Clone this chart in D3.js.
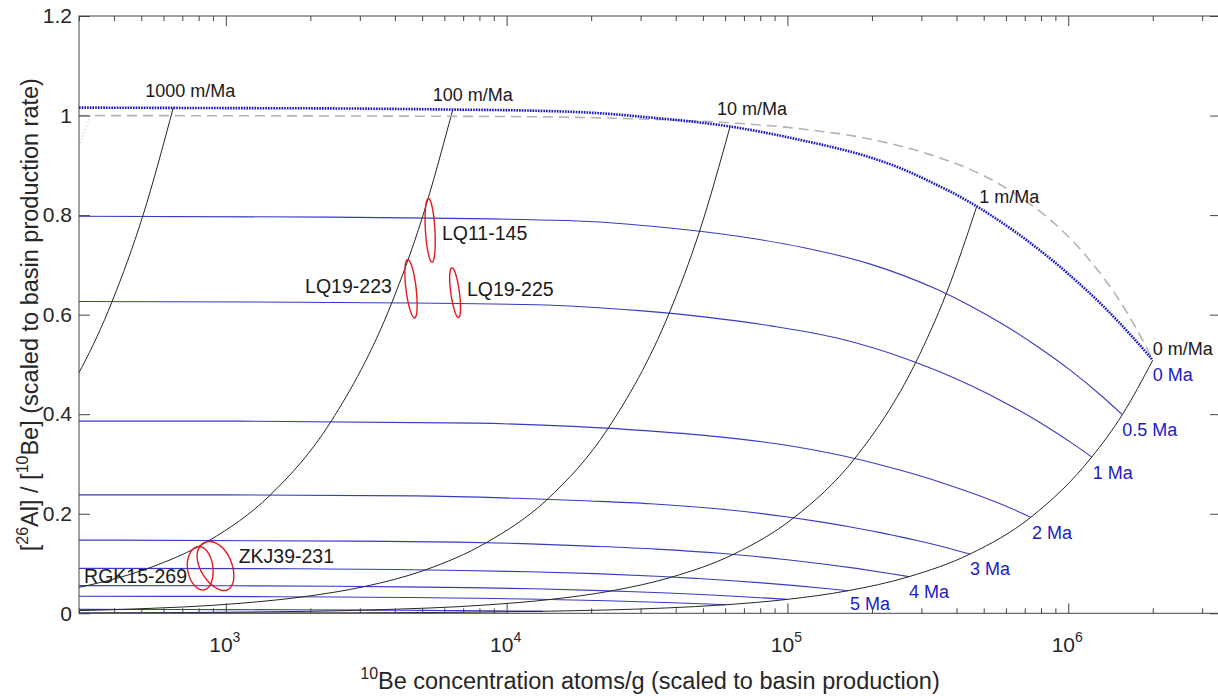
<!DOCTYPE html>
<html><head><meta charset="utf-8">
<script src="https://cdn.jsdelivr.net/npm/d3@7/dist/d3.min.js"></script>
<style>
body{margin:0;background:#fff}
svg{display:block}
text{font-family:"Liberation Sans",Arial,Helvetica,sans-serif}
</style>
</head><body>
<svg id="c" width="1218" height="696"></svg>
<script>
// ---------------- DATA ----------------
const xDomain = [300, 3.5e6];
const yDomain = [0, 1.2];
const yTicks = [0, 0.2, 0.4, 0.6, 0.8, 1, 1.2];
const yTickLabels = ["0", "0.2", "0.4", "0.6", "0.8", "1", "1.2"];
const xMajorTicks = [1e3, 1e4, 1e5, 1e6];
const xTickExponents = ["3", "4", "5", "6"];
const xLabelSup = "10", xLabelMain = "Be concentration atoms/g (scaled to basin production)";
const yLabelParts = [["[", false], ["26", true], ["Al] / [", false], ["10", true], ["Be] (scaled to basin production rate)", false]];

// steady-state erosion curve  [N, ratio]
const steadyState = [[300,1.016],[1000,1.015],[3000,1.014],[6430,1.012],[12000,1.010],[21000,1.005],[34000,0.995],[48900,0.986],[62500,0.978],[84500,0.965],[111000,0.951],[145800,0.936],[191700,0.918],[251900,0.8945],[331000,0.864],[435100,0.8294],[571700,0.7875],[751100,0.7395],[987900,0.6846],[1298000,0.6233],[1705000,0.5534],[2000000,0.5085]];

// constant exposure (no erosion) curve
const exposure = [[300,1.0],[10000,0.998],[30000,0.993],[60000,0.986],[111000,0.9735],[200000,0.952],[320000,0.922],[472000,0.886],[700000,0.830],[1000000,0.757],[1300000,0.683],[1500000,0.634],[1700000,0.584],[1800000,0.559],[1900000,0.534],[1970000,0.516],[2000000,0.5085]];

const faintTrace = [[330,1.0],[316,0.972],[302,0.944]];

// burial paths at constant pre-burial erosion rate
const erosionLabels = ["1000 m/Ma", "100 m/Ma", "10 m/Ma", "1 m/Ma", "0 m/Ma"];
const burial1000 = [[650,1.016],[506,0.798],[394,0.627],[239,0.386]];
const burial100 = [[6430,1.012],[5008,0.795],[3901,0.624],[2367,0.385],[1436,0.237],[871,0.146],[529,0.0903],[321,0.0557],[194,0.0343]];
const burial10 = [[62500,0.978],[48680,0.768],[37920,0.603],[23010,0.372],[13960,0.229],[8469,0.142],[5138,0.0872],[3119,0.0538],[1888,0.0332],[1144,0.0204],[422,0.00778],[156,0.00296]];
const burial1 = [[472000,0.817],[367600,0.642],[286400,0.504],[173700,0.311],[105400,0.192],[63960,0.118],[38800,0.0729],[23550,0.0449],[14250,0.0277],[8638,0.0171],[3186,0.0065],[1175,0.00248],[432,0.00094],[250,0.0005]];
const burial0 = [[2000000,0.5085],[1558000,0.399],[1213000,0.314],[736200,0.193],[446600,0.119],[271000,0.0736],[164400,0.0454],[99800,0.0280],[60400,0.0172],[36600,0.0106],[13500,0.00404],[4980,0.00154],[1830,0.000585],[300,0.0001]];

// burial isochrons
const isoLabels = ["0 Ma", "0.5 Ma", "1 Ma", "2 Ma", "3 Ma", "4 Ma", "5 Ma"];
const iso05 = [[234,0.798],[2337,0.796],[16360,0.789],[38090,0.774],[65820,0.758],[113600,0.735],[196200,0.702],[338900,0.6513],[445300,0.6184],[585000,0.5807],[769500,0.5376],[1011000,0.4895],[1328000,0.4346],[1558000,0.399]];
const iso1 = [[182,0.627],[1820,0.625],[12740,0.620],[29670,0.608],[51270,0.595],[88460,0.577],[152800,0.552],[264000,0.5115],[346900,0.4856],[455700,0.4560],[599400,0.4222],[787500,0.3844],[1034000,0.3413],[1213000,0.314]];
const iso2 = [[110,0.386],[1104,0.386],[7730,0.382],[18000,0.375],[31100,0.367],[53670,0.356],[92730,0.340],[160200,0.3154],[210400,0.2995],[276500,0.2812],[363600,0.2604],[477800,0.2370],[627600,0.2105],[736200,0.193]];
const iso3 = [[67,0.238],[670,0.238],[4689,0.236],[10920,0.231],[18870,0.226],[32560,0.220],[56250,0.210],[97160,0.1946],[127700,0.1847],[167700,0.1735],[220600,0.1606],[289800,0.1462],[380700,0.1298],[446600,0.119]];
const iso4 = [[40.7,0.147],[407,0.147],[2846,0.145],[6626,0.143],[11450,0.140],[19760,0.135],[34130,0.129],[58960,0.1200],[77470,0.1140],[101800,0.1070],[133900,0.0991],[175900,0.0902],[231000,0.0801],[271000,0.0736]];
const iso5 = [[24.7,0.0906],[247,0.0904],[1726,0.0896],[4020,0.0880],[6946,0.0861],[11980,0.0835],[20710,0.0798],[35770,0.0740],[46990,0.0702],[61740,0.0660],[81210,0.0611],[106700,0.0556],[140200,0.0494],[164400,0.0454]];
const iso6 = [[15,0.0558],[150,0.0558],[1048,0.0553],[2440,0.0542],[4217,0.0531],[7275,0.0515],[12570,0.0492],[21710,0.0456],[28530,0.0433],[37480,0.0407],[49300,0.0377],[64770,0.0343],[85080,0.0304],[99800,0.0280]];
const iso7 = [[9,0.0344],[90.6,0.0344],[634,0.0341],[1477,0.0334],[2552,0.0327],[4403,0.0317],[7607,0.0303],[13140,0.0281],[17270,0.0267],[22680,0.0251],[29830,0.0232],[39200,0.0211],[51490,0.0188],[60400,0.0172]];
const iso10 = [[142,0.0080],[330,0.00784],[570,0.00767],[984,0.00744],[1700,0.00711],[2937,0.00659],[3859,0.00626],[5070,0.00588],[6668,0.00544],[8762,0.00496],[11510,0.0044],[13500,0.00404]];

// samples: uncertainty ellipses
const sampleNames = ["LQ11-145", "LQ19-223", "LQ19-225", "RGK15-269", "ZKJ39-231"];
const sampleN = [5346, 4571, 6560, 815, 929];
const sampleNerr = [223, 230, 291, 86, 139];
const sampleR = [0.7695, 0.652, 0.644, 0.0905, 0.095];
const sampleRerr = [0.064, 0.0586, 0.050, 0.0436, 0.0492];
const sampleCorr = [-0.35, -0.55, -0.6, -0.15, -0.4];

// ---------------- LAYOUT ----------------
const P = {left: 79, right: 1221, top: 16, bottom: 613.3};
const erosionLabelOffset = [[-28,-10.5],[-20,-9],[-13,-11.7],[2.6,-3.5],[0,-5]];
const isoLabelOffset = [[0,21],[0,21],[1,22],[1,22],[0,21],[0,21.5],[2,19]];
const sampleLabelOffset = [[11.7,9.5,"start"],[-19.3,4.3,"end"],[11.7,3.7,"start"],[-13.8,15,"end"],[21.8,-2.7,"start"]];

const svg = d3.select("#c");
const x = d3.scaleLog().domain(xDomain).range([P.left, P.right]);
const y = d3.scaleLinear().domain(yDomain).range([P.bottom, P.top]);

svg.append("defs").append("clipPath").attr("id", "clip")
  .append("rect").attr("x", P.left).attr("y", P.top)
  .attr("width", P.right - P.left).attr("height", P.bottom - P.top);
const plot = svg.append("g").attr("clip-path", "url(#clip)");
const line = d3.line().x(d => x(d[0])).y(d => y(d[1])).curve(d3.curveMonotoneX);

const blueLine = "#3a3ac2", blueText = "#1c1cc4";

// isochrons
const isochrons = [iso05, iso1, iso2, iso3, iso4, iso5, iso6, iso7, iso10];
plot.selectAll("path.iso").data(isochrons).join("path").attr("class", "iso")
  .attr("d", line).attr("fill", "none").attr("stroke", blueLine).attr("stroke-width", 1.1);

// burial paths
const burials = [burial1000, burial100, burial10, burial1, burial0];
plot.selectAll("path.bur").data(burials).join("path").attr("class", "bur")
  .attr("d", line).attr("fill", "none").attr("stroke", "#262626").attr("stroke-width", 1);

// exposure dashed
plot.append("path").datum(exposure).attr("d", line).attr("fill", "none")
  .attr("stroke", "#b4b4b4").attr("stroke-width", 1.6).attr("stroke-dasharray", "10,6");
plot.append("path").datum(faintTrace).attr("d", line).attr("fill", "none")
  .attr("stroke", "#d4d8c0").attr("stroke-width", 1.2).attr("stroke-dasharray", "1.5,2");

// steady state dotted
plot.append("path").datum(steadyState).attr("d", line).attr("fill", "none")
  .attr("stroke", "#1515cc").attr("stroke-width", 2.6).attr("stroke-dasharray", "1.6,1.1");

// ellipses
const ang = d3.range(0, 73).map(i => i / 72 * 2 * Math.PI);
sampleNames.forEach((nm, i) => {
  const rho = sampleCorr[i], s = Math.sqrt(1 - rho * rho);
  const pts = ang.map(a => [sampleN[i] + sampleNerr[i] * Math.cos(a),
                            sampleR[i] + sampleRerr[i] * (rho * Math.cos(a) + s * Math.sin(a))]);
  svg.append("path").datum(pts)
    .attr("d", d3.line().x(d => x(d[0])).y(d => y(d[1])).curve(d3.curveLinearClosed))
    .attr("fill", "none").attr("stroke", "#e3191e").attr("stroke-width", 1.4);
  const o = sampleLabelOffset[i];
  svg.append("text").attr("x", x(sampleN[i]) + o[0]).attr("y", y(sampleR[i]) + o[1])
    .attr("text-anchor", o[2]).attr("font-size", 19.5).attr("fill", "#1a1a1a").text(nm);
});

// erosion labels
burials.forEach((b, i) => {
  const o = erosionLabelOffset[i];
  svg.append("text").attr("x", x(b[0][0]) + o[0]).attr("y", y(b[0][1]) + o[1])
    .attr("font-size", 18).attr("fill", "#1a1a1a").text(erosionLabels[i]);
});
// isochron labels
const isoEnds = [steadyState, iso05, iso1, iso2, iso3, iso4, iso5];
isoEnds.forEach((c, i) => {
  const e = c[c.length - 1], o = isoLabelOffset[i];
  svg.append("text").attr("x", x(e[0]) + o[0]).attr("y", y(e[1]) + o[1])
    .attr("font-size", 18).attr("fill", blueText).text(isoLabels[i]);
});

// ---------------- AXES ----------------
const axisColor = "#444";
const minor = x.ticks().filter(t => !xMajorTicks.includes(t));
function styleAxis(g) {
  g.select(".domain").remove();
  g.selectAll("line").attr("stroke", axisColor);
}
svg.append("g").attr("transform", `translate(${P.left},0)`)
  .call(d3.axisLeft(y).tickValues(yTicks).tickSize(-11).tickPadding(7).tickFormat((d, i) => yTickLabels[i]))
  .call(styleAxis)
  .call(g => g.selectAll("text").attr("font-size", 21).attr("fill", "#262626").attr("font-family", "Liberation Sans, Arial, sans-serif"));
svg.append("g").attr("transform", `translate(${P.right},0)`)
  .call(d3.axisRight(y).tickValues(yTicks).tickSize(-11).tickFormat(""))
  .call(styleAxis);
[[d3.axisBottom, P.bottom], [d3.axisTop, P.top]].forEach(([ax, yy]) => {
  svg.append("g").attr("transform", `translate(0,${yy})`)
    .call(ax(x).tickValues(xMajorTicks).tickSize(-10).tickFormat("")).call(styleAxis);
  svg.append("g").attr("transform", `translate(0,${yy})`)
    .call(ax(x).tickValues(minor).tickSize(-5).tickFormat("")).call(styleAxis);
});
svg.append("rect").attr("x", P.left).attr("y", P.top)
  .attr("width", P.right - P.left).attr("height", P.bottom - P.top)
  .attr("fill", "none").attr("stroke", axisColor).attr("stroke-width", 1);

// x tick labels 10^k
xMajorTicks.forEach((t, i) => {
  const tx = svg.append("text").attr("x", x(t) - 1).attr("y", 652).attr("text-anchor", "middle")
    .attr("font-size", 21).attr("fill", "#262626");
  tx.append("tspan").text("10");
  tx.append("tspan").attr("font-size", 14).attr("dy", -10).text(xTickExponents[i]);
});

// axis labels
const xl = svg.append("text").attr("x", (P.left + P.right) / 2).attr("y", 689)
  .attr("text-anchor", "middle").attr("font-size", 23.5).attr("fill", "#262626");
xl.append("tspan").attr("font-size", 16).attr("dy", -10).text(xLabelSup);
xl.append("tspan").attr("dy", 10).text(xLabelMain);

const yl = svg.append("text").attr("transform", `translate(38,${(P.top + P.bottom) / 2}) rotate(-90)`)
  .attr("text-anchor", "middle").attr("font-size", 23.5).attr("fill", "#262626");
let prevSup = false;
yLabelParts.forEach(([t, sup]) => {
  const ts = yl.append("tspan").text(t);
  if (sup) ts.attr("font-size", 16).attr("dy", -10);
  else if (prevSup) ts.attr("dy", 10);
  prevSup = sup;
});
</script>
</body></html>
